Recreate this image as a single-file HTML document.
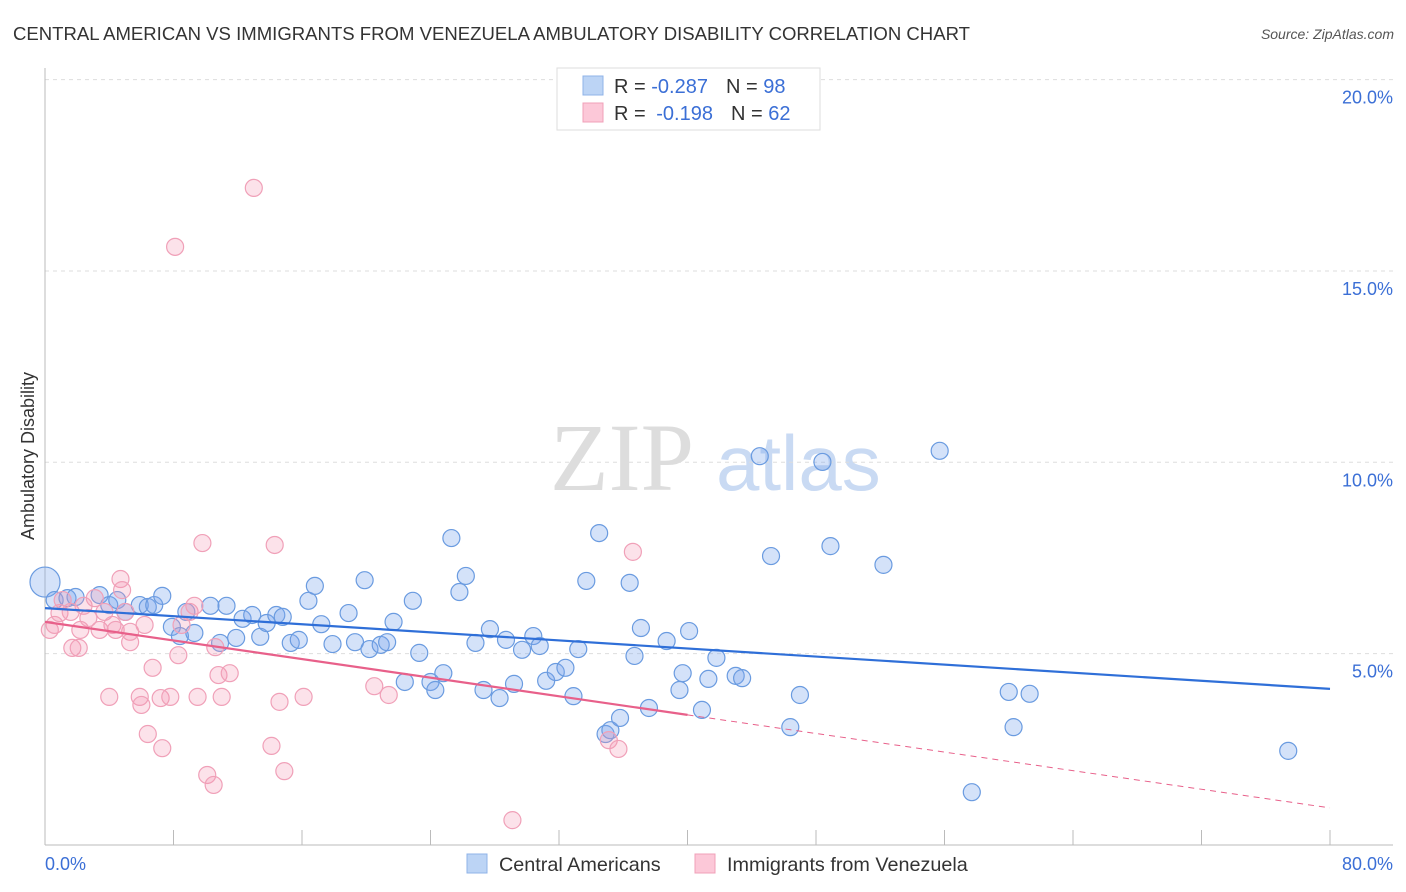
<!DOCTYPE html>
<html><head><meta charset="utf-8">
<style>
body{margin:0;background:#fff;font-family:"Liberation Sans",sans-serif;}
svg{display:block}
</style></head>
<body>
<svg id="chart" width="1406" height="892" xmlns="http://www.w3.org/2000/svg">
<text x="13" y="40" font-size="18.5" textLength="957" lengthAdjust="spacingAndGlyphs" fill="#333">CENTRAL AMERICAN VS IMMIGRANTS FROM VENEZUELA AMBULATORY DISABILITY CORRELATION CHART</text>
<text x="1394" y="39" font-size="14" font-style="italic" fill="#555" text-anchor="end">Source: ZipAtlas.com</text>
<text x="0" y="0" transform="translate(34,456) rotate(-90)" font-size="18" fill="#333" text-anchor="middle">Ambulatory Disability</text>
<text x="694" y="490" font-size="96" font-family="Liberation Serif" fill="#ddd" text-anchor="end">ZIP</text>
<text x="716" y="490" font-size="78" fill="#c9daf3">atlas</text>
<g id="grid"></g><g id="axes"></g><g id="pts"></g><g id="trend"></g>
<g>
<rect x="557" y="68" width="263" height="62" fill="#fff" stroke="#ddd"/>
<rect x="583" y="76" width="20" height="19" fill="#bcd4f5" stroke="#8fb3e8"/>
<rect x="583" y="103" width="20" height="19" fill="#fcc8d8" stroke="#f0a0b8"/>
<text x="614" y="93" font-size="20" fill="#333">R = <tspan fill="#3b6fd6">-0.287</tspan><tspan dx="18">N = </tspan><tspan fill="#3b6fd6">98</tspan></text>
<text x="614" y="120" font-size="20" fill="#333">R = <tspan fill="#3b6fd6" dx="5">-0.198</tspan><tspan dx="18">N = </tspan><tspan fill="#3b6fd6">62</tspan></text>
</g>
<g>
<rect x="467" y="854" width="20" height="19" fill="#bcd4f5" stroke="#8fb3e8"/>
<text x="499" y="871" font-size="19.8" fill="#333">Central Americans</text>
<rect x="695" y="854" width="20" height="19" fill="#fcc8d8" stroke="#f0a0b8"/>
<text x="727" y="871" font-size="19.8" fill="#333">Immigrants from Venezuela</text>
</g>
</svg>
<script>
const blueX=[0,0.6,1.4,1.9,3.4,4.0,4.5,5.0,5.9,6.4,6.8,7.3,7.9,8.4,8.8,9.3,10.3,11.3,10.9,11.9,12.3,12.9,13.4,13.8,14.4,14.8,15.3,15.8,16.4,16.8,17.2,17.9,18.9,19.3,19.9,20.2,20.9,21.3,21.7,22.9,23.3,22.4,24.0,24.3,24.8,25.3,25.8,26.2,26.8,27.3,27.7,28.3,28.7,29.2,29.7,30.4,30.8,31.2,31.8,32.4,32.9,33.2,33.7,34.5,34.9,35.2,35.8,36.4,36.7,37.1,37.6,38.7,39.5,39.7,40.1,40.9,41.3,41.8,43.0,43.4,44.5,45.2,46.4,47.0,48.4,48.9,52.2,55.7,57.7,60.0,60.3,61.3,77.4];
const blueY=[6.87,6.40,6.45,6.48,6.53,6.27,6.40,6.09,6.27,6.22,6.27,6.51,5.70,5.46,6.09,5.54,6.25,6.25,5.28,5.41,5.91,6.01,5.44,5.80,6.01,5.96,5.28,5.36,6.38,6.77,5.77,5.25,6.06,5.30,6.92,5.12,5.23,5.30,5.83,6.38,5.02,4.26,4.26,4.05,4.49,8.02,6.61,7.03,5.28,4.05,5.64,3.84,5.36,4.21,5.10,5.46,5.20,4.29,4.52,4.63,3.89,5.12,6.90,8.15,2.90,3.00,3.32,6.85,4.94,5.67,3.58,5.33,4.05,4.49,5.59,3.53,4.34,4.89,4.42,4.36,10.16,7.55,3.08,3.92,10.01,7.81,7.32,10.30,1.38,4.00,3.08,3.95,2.46];
const pinkX=[0.3,0.6,0.9,1.1,1.6,1.7,2.1,2.2,2.4,2.7,3.1,3.4,3.7,4.0,4.2,4.4,4.7,4.8,5.0,5.3,5.3,5.9,6.0,6.2,6.4,6.7,7.2,7.3,7.8,8.1,8.3,8.5,9.0,9.3,9.5,9.8,10.1,10.5,10.6,10.8,11.0,11.5,13.0,14.1,14.3,14.6,14.9,16.1,20.5,21.4,29.1,35.1,35.7,36.6];
const pinkY=[5.62,5.75,6.06,6.40,6.09,5.15,5.15,5.62,6.25,5.93,6.45,5.62,6.09,3.87,5.75,5.62,6.95,6.66,6.09,5.57,5.30,3.87,3.66,5.75,2.90,4.63,3.84,2.53,3.87,15.63,4.96,5.75,6.09,6.25,3.87,7.89,1.83,1.57,5.17,4.44,3.87,4.49,17.17,2.59,7.84,3.74,1.93,3.87,4.15,3.92,0.65,2.74,2.51,7.66];
const yTicks=[5,10,15,20];
const blueTrend=[6.19,4.08];
const pinkTrend=[5.83,0.97];
const pinkSolidEnd=40;
const NS="http://www.w3.org/2000/svg";
const sx=v=>45+v*(1285/80);
const sy=v=>845-v*38.27;
function mk(tag,attrs,parent){const e=document.createElementNS(NS,tag);for(const k in attrs)e.setAttribute(k,attrs[k]);parent.appendChild(e);return e;}
const grid=document.getElementById('grid'),axes=document.getElementById('axes'),pts=document.getElementById('pts'),trend=document.getElementById('trend');
yTicks.forEach(t=>{
 const l=mk('line',{x1:45,x2:1393,y1:sy(t),y2:sy(t),stroke:'#ddd','stroke-dasharray':'4,4'},grid);
 
 
 const tx=mk('text',{x:1393,y:sy(t)+24,'font-size':18,fill:'#3b6fd6','text-anchor':'end'},grid);
 tx.textContent=t.toFixed(1)+'%';
 
 
});
const ax=mk('line',{x1:45,x2:45,y1:68,y2:845,stroke:'#bbb'},axes);


const bx=mk('line',{x1:45,x2:1393,y1:845,y2:845,stroke:'#bbb'},axes);


for(let i=0;i<=10;i++){
 const t=mk('line',{x1:sx(i*8),x2:sx(i*8),y1:830,y2:845,stroke:'#bbb'},axes);
 
 
}
const x0=mk('text',{x:45,y:870,'font-size':18,fill:'#3b6fd6'},axes);x0.textContent='0.0%';


const x1=mk('text',{x:1393,y:870,'font-size':18,fill:'#3b6fd6','text-anchor':'end'},axes);x1.textContent='80.0%';


blueX.forEach((x,i)=>{
 const c=mk('circle',{cx:sx(x),cy:sy(blueY[i]),r:i===0?15:8.5,fill:'rgba(120,165,235,0.32)',stroke:'#6a9be0','stroke-width':1.2},pts);
 
 
});
pinkX.forEach((x,i)=>{
 const c=mk('circle',{cx:sx(x),cy:sy(pinkY[i]),r:8.5,fill:'rgba(245,150,180,0.28)',stroke:'#f0a0b8','stroke-width':1.2},pts);
 
 
});
const bl=mk('line',{x1:sx(0),y1:sy(blueTrend[0]),x2:sx(80),y2:sy(blueTrend[1]),stroke:'#2f6fd8','stroke-width':2.2},trend);


const pAt=x=>pinkTrend[0]+(pinkTrend[1]-pinkTrend[0])*x/80;
const pl=mk('line',{x1:sx(0),y1:sy(pAt(0)),x2:sx(pinkSolidEnd),y2:sy(pAt(pinkSolidEnd)),stroke:'#e8608a','stroke-width':2.2},trend);


const pd=mk('line',{x1:sx(pinkSolidEnd),y1:sy(pAt(pinkSolidEnd)),x2:sx(80),y2:sy(pAt(80)),stroke:'#e8608a','stroke-width':1,'stroke-dasharray':'6,5'},trend);


</script>
</body></html>
